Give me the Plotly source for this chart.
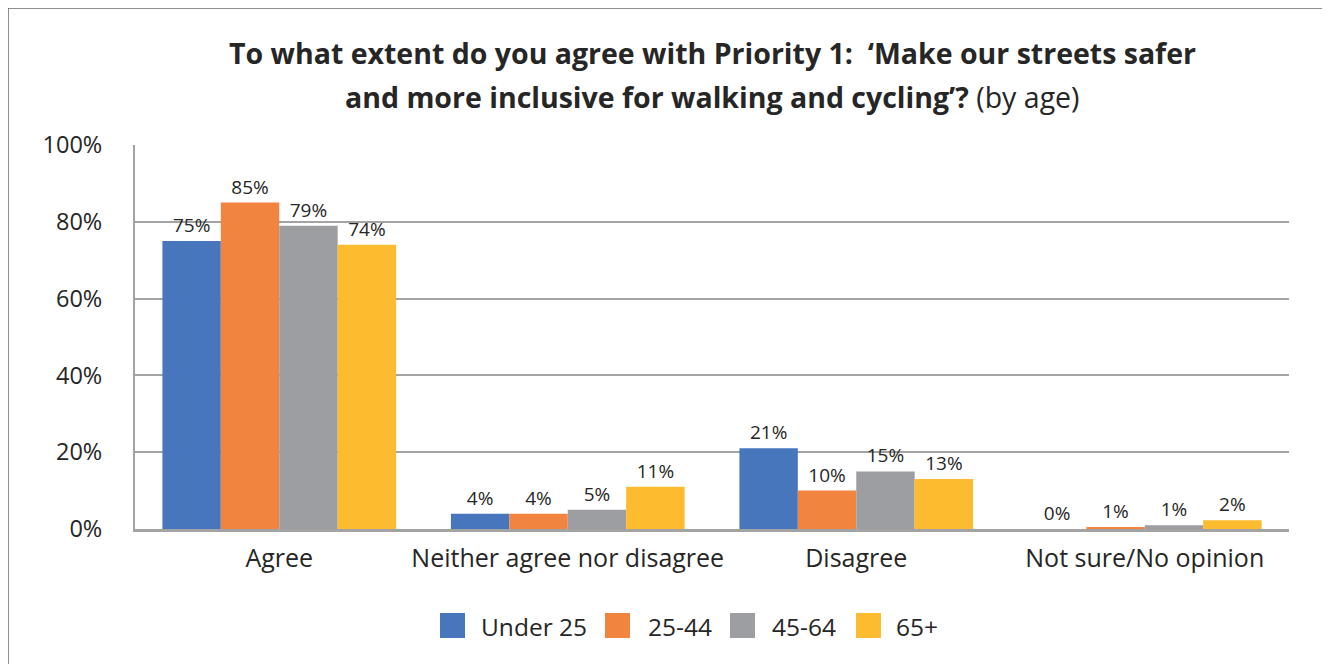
import plotly.graph_objects as go

categories = ["Agree", "Neither agree nor disagree", "Disagree", "Not sure/No opinion"]
series_names = ["Under 25", "25-44", "45-64", "65+"]
under25 = [75, 4, 21, 0]
age25_44 = [85, 4, 10, 0.5]
age45_64 = [79, 5, 15, 1]
age65 = [74, 11, 13, 2.3]
colors = ["#4876BD", "#F1843F", "#9D9EA2", "#FDBB30"]
y_ticks = [0, 20, 40, 60, 80, 100]
y_ticktext = [f"{v}%" for v in y_ticks]

# page is drawn with an 8px body offset
OFF = 8
W, H = 1330 - 2 * OFF, 664 - OFF
PL, PR, PT, PB = 135, 1289, 145, 529  # plot area in page pixels
L, T = PL - OFF, PT - OFF
R = (W + OFF) - PR
B = (H + OFF) - PB
pw, ph = PR - PL, PB - PT


def px(x):
    return (x - PL) / pw


def py(y):
    return (PB - y) / ph


font = "Open Sans"
fig = go.Figure()
for name, vals, col in zip(series_names, [under25, age25_44, age45_64, age65], colors):
    fig.add_trace(go.Bar(
        x=categories, y=vals, name=name, marker=dict(color=col, line=dict(width=0)),
        texttemplate="%{y:.0f}%", textposition="outside", cliponaxis=False,
        textfont=dict(size=19, color="#262626", family=font), showlegend=False,
    ))

# manual legend (large squares)
leg_sq_x = [440, 605, 730, 856]
leg_txt_x = [479, 646, 770, 894]
shapes = [dict(type="path", xref="paper", yref="paper",
               path=f"M {px(1345)} {py(OFF)} L {px(OFF)} {py(OFF)} L {px(OFF)} {py(680)}",
               line=dict(color="#6b6b6b", width=1.5), layer="above")]
annotations = [
    dict(text="<b>To what extent do you agree with Priority 1:  ‘Make our streets safer</b>",
         xref="paper", yref="paper", x=0.5, y=py(53), xanchor="center", yanchor="middle",
         showarrow=False, font=dict(size=28.5, color="#262626", family=font)),
    dict(text="<b>and more inclusive for walking and cycling’?</b> (by age)",
         xref="paper", yref="paper", x=0.5, y=py(97), xanchor="center", yanchor="middle",
         showarrow=False, font=dict(size=28.5, color="#262626", family=font)),
]
for name, col, sx, tx in zip(series_names, colors, leg_sq_x, leg_txt_x):
    shapes.append(dict(type="rect", xref="paper", yref="paper", x0=px(sx), x1=px(sx + 25),
                       y0=py(638), y1=py(613), fillcolor=col, line=dict(width=0)))
    annotations.append(dict(text=name, xref="paper", yref="paper", x=px(tx), y=py(626),
                            xanchor="left", yanchor="middle", showarrow=False,
                            font=dict(size=24.5, color="#262626", family=font)))

fig.update_layout(
    width=W, height=H,
    margin=dict(l=L, r=R, t=T, b=B, autoexpand=False),
    paper_bgcolor="white", plot_bgcolor="white",
    barmode="group", bargap=0.19, bargroupgap=0,
    font=dict(family=font, color="#262626"),
    showlegend=False,
    annotations=annotations,
    shapes=shapes,
)
fig.update_yaxes(range=[0, 100], tickvals=y_ticks, ticktext=y_ticktext, showgrid=True,
                 gridcolor="#A3A3A3", gridwidth=2, showline=True, linecolor="#A3A3A3", linewidth=2,
                 zeroline=False, ticks="", tickfont=dict(size=23.5, color="#262626"),
                 ticklabelstandoff=26)
fig.update_xaxes(showline=True, linecolor="#A3A3A3", linewidth=3, ticks="",
                 tickfont=dict(size=25, color="#262626"), ticklabelstandoff=5)

fig.write_html("out.html")
